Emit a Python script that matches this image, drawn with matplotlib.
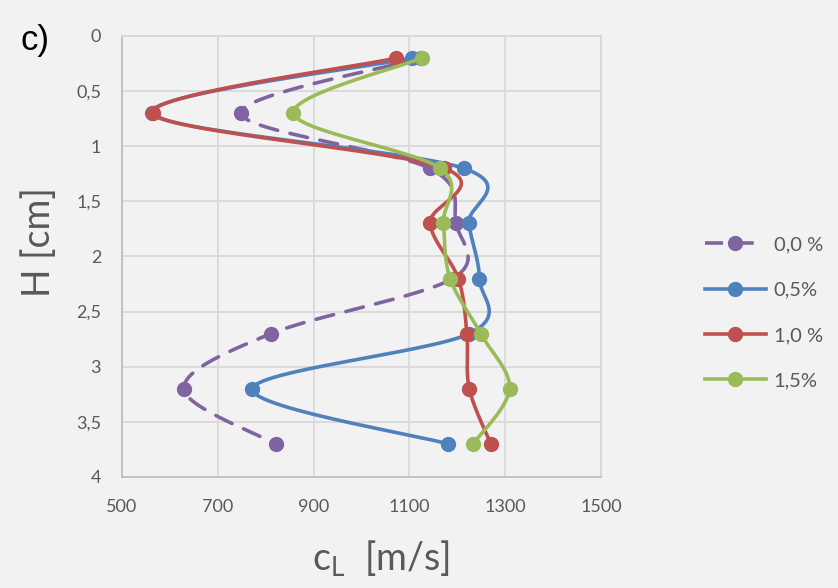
import numpy as np
import matplotlib.pyplot as plt

plt.rcParams['font.family'] = ['Lato', 'DejaVu Sans']

# depth of measurement points [cm]
H = [0.2, 0.7, 1.2, 1.7, 2.2, 2.7, 3.2, 3.7]

# longitudinal wave speed c_L [m/s] for each additive content
c_00 = [1125, 748, 1142, 1197, 1190, 811, 629, 821]
c_05 = [1105, 562, 1213, 1224, 1246, 1225, 772, 1181]
c_10 = [1073, 565, 1173, 1143, 1202, 1220, 1225, 1270]
c_15 = [1126, 858, 1164, 1171, 1185, 1249, 1309, 1233]

labels = ["0,0 %", "0,5%", "1,0 %", "1,5%"]
colors = ["#8064A2", "#4F81BD", "#C0504D", "#9BBB59"]

x_ticks = [500, 700, 900, 1100, 1300, 1500]
y_ticks = [0, 0.5, 1, 1.5, 2, 2.5, 3, 3.5, 4]
y_tick_labels = ["0", "0,5", "1", "1,5", "2", "2,5", "3", "3,5", "4"]


def smooth(xs, ys, n=30):
    # Excel-style smoothed line (Catmull-Rom through the points)
    p = np.column_stack([xs, ys]).astype(float)
    p = np.vstack([p[0], p, p[-1]])
    out = []
    for i in range(1, len(p) - 2):
        p0, p1, p2, p3 = p[i - 1], p[i], p[i + 1], p[i + 2]
        c1 = p1 + (p2 - p0) / 6
        c2 = p2 - (p3 - p1) / 6
        t = np.linspace(0, 1, n)[:, None]
        seg = ((1 - t) ** 3 * p1 + 3 * (1 - t) ** 2 * t * c1
               + 3 * (1 - t) * t ** 2 * c2 + t ** 3 * p2)
        out.append(seg)
    out = np.vstack(out)
    return out[:, 0], out[:, 1]


bg = "#F2F2F2"
fig = plt.figure(figsize=(8.38, 5.88), dpi=100, facecolor=bg)
ax = fig.add_axes([0.1456, 0.1888, 0.5716, 0.75], facecolor=bg)

series = [c_00, c_05, c_10, c_15]
for i, vals in enumerate(series):
    sx, sy = smooth(vals, H)
    ls = (0, (5, 3.5)) if i == 0 else "-"
    ax.plot(sx, sy, color=colors[i], lw=2.6, ls=ls, solid_capstyle="round",
            dash_capstyle="round", zorder=2 + i)
    ax.plot(vals, H, ls="none", marker="o", ms=10, color=colors[i], zorder=2 + i)
    # legend proxy
    ax.plot([], [], color=colors[i], lw=2.6, ls=ls, marker="o", ms=10,
            label=labels[i])

ax.set_xlim(500, 1500)
ax.set_ylim(4, 0)
ax.set_xticks(x_ticks)
ax.set_yticks(y_ticks)
ax.set_yticklabels(y_tick_labels)
ax.grid(True, color="#D9D9D9", lw=1.3)
ax.set_axisbelow(True)
ax.tick_params(length=0, labelsize=13, labelcolor="#595959")
ax.tick_params(axis="x", pad=16)
ax.tick_params(axis="y", pad=15)
for s in ax.spines.values():
    s.set_color("#D9D9D9")
    s.set_linewidth(1.3)
ax.spines["left"].set_color("#BFBFBF")
ax.spines["bottom"].set_color("#BFBFBF")

ax.set_xlabel(r"c$_\mathregular{L}$  [m/s]", fontsize=27, color="#595959")
ax.set_ylabel("H [cm]", fontsize=27, color="#595959")
ax.xaxis.set_label_coords(0.54, -0.14)
ax.yaxis.set_label_coords(-0.136, 0.533)

fig.text(0.025, 0.915, "c)", fontsize=25, color="black", family="Liberation Sans")

leg = fig.legend(loc="center left", bbox_to_anchor=(0.82, 0.468), frameon=False,
                 fontsize=14.5, labelcolor="#595959", handlelength=3.0,
                 labelspacing=1.4, handletextpad=0.4)

fig.savefig("out.png", dpi=100, facecolor=bg)
